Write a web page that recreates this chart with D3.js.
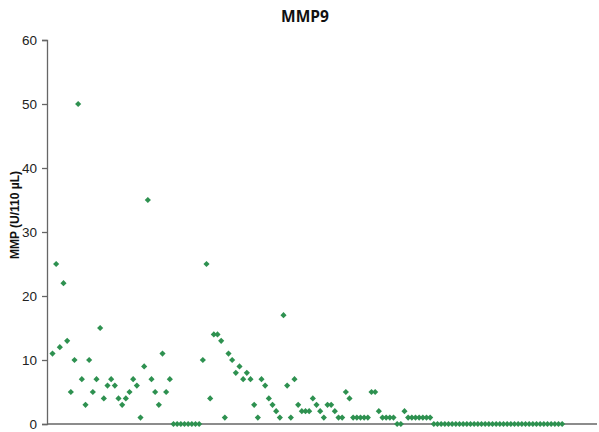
<!DOCTYPE html>
<html><head><meta charset="utf-8">
<script src="https://cdn.jsdelivr.net/npm/d3@7"></script>
<style>body{margin:0;background:#fff}</style>
</head><body>
<svg id="c" width="599" height="432"></svg>
<script>
const title = "MMP9";
const yLabel = "MMP (U/110 µL)";
const yTicks = [0, 10, 20, 30, 40, 50, 60];
const values = [
 11,25,12,22,13,5,10,50,7,3,10,5,7,15,4,6,7,6,4,3,4,5,7,6,1,9,35,7,5,3,11,5,7,
 0,0,0,0,0,0,0,0,
 10,25,4,14,14,13,1,11,10,8,9,7,8,7,3,1,7,6,4,3,2,1,17,6,1,7,3,2,2,2,4,3,2,1,3,3,2,1,1,5,4,
 1,1,1,1,1,5,5,2,1,1,1,1,0,0,2,1,1,1,1,1,1,1,
 0,0,0,0,0,0,0,0,0,0,0,0,0,0,0,0,0,0,0,0,0,0,0,0,0,0,0,0,0,0,0,0,0,0,0,0
];
const svg = d3.select("#c");
const x = d3.scaleLinear().domain([-1.5, 148.5]).range([47, 597]);
const y = d3.scaleLinear().domain([0, 60]).range([424, 40]);
const font = "Arial, 'Liberation Sans', sans-serif";

const yAxis = svg.append("g").attr("transform", "translate(47,0)")
  .call(d3.axisLeft(y).tickValues(yTicks).tickSize(5).tickPadding(5));
yAxis.selectAll("text").attr("font-family", font).attr("font-size", 13.5).attr("fill", "#222");
yAxis.selectAll("line,path").attr("stroke", "#666").attr("stroke-width", 1.3);

svg.append("line").attr("x1", 47).attr("x2", 597).attr("y1", y(0)).attr("y2", y(0))
  .attr("stroke", "#666").attr("stroke-width", 1.3);

svg.append("g").selectAll("path").data(values).join("path")
  .attr("d", d3.symbol(d3.symbolSquare, 19))
  .attr("transform", (d, i) => `translate(${x(i)},${y(d)}) rotate(45)`)
  .attr("fill", "#2e9150");

svg.append("text").attr("x", 305).attr("y", 22).attr("text-anchor", "middle")
  .attr("font-family", "'Open Sans', Arial, sans-serif").attr("font-weight", "bold")
  .attr("font-size", 15.5).attr("fill", "#111").text(title);

svg.append("text").attr("transform", "translate(19,215) rotate(-90)")
  .attr("text-anchor", "middle").attr("font-family", font).attr("font-weight", "bold")
  .attr("font-size", 12).attr("fill", "#111").text(yLabel);
</script>
</body></html>
